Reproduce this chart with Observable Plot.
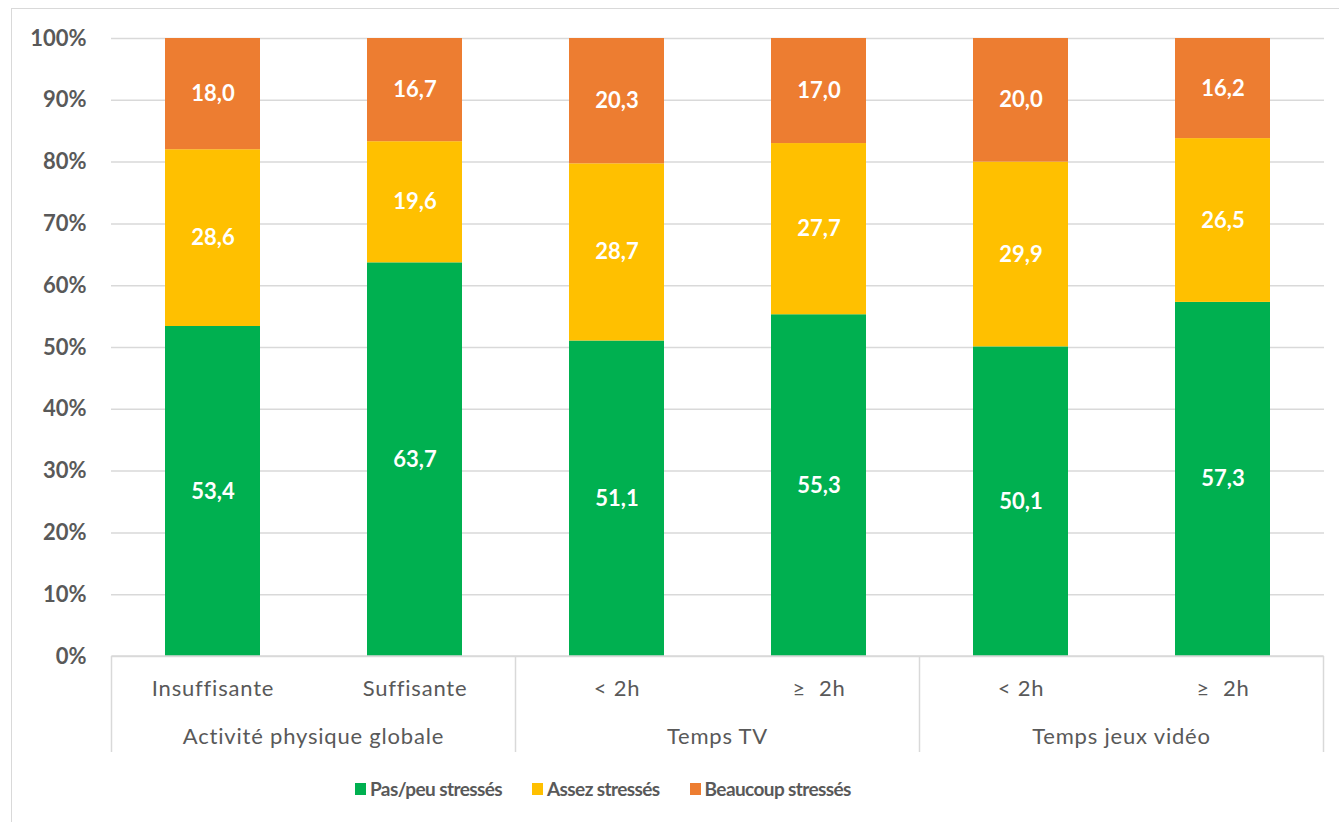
<!DOCTYPE html>
<html>
<head>
<meta charset="utf-8">
<script src="https://cdn.jsdelivr.net/npm/d3@7"></script>
<script src="https://cdn.jsdelivr.net/npm/@observablehq/plot@0.6"></script>
<style>
  html, body { margin: 0; padding: 0; background: #fff; overflow: hidden; }
  #wrap { position: relative; width: 1339px; height: 822px; font-family: Lato, "Open Sans", sans-serif; }
  #border { position: absolute; left: 11px; top: 8px; width: 1400px; height: 900px; border: 1.5px solid #d9d9d9; box-sizing: border-box; }
  #chart { position: absolute; left: 0; top: 0; }
  #chart g[aria-label="x-axis tick label"] text { letter-spacing: 0.8px; }
  #legend { position: absolute; left: 355px; top: 777px; display: flex; gap: 30px; font-weight: bold; font-size: 19px; letter-spacing: -0.6px; color: #595959; }
  .item { display: flex; align-items: center; gap: 4px; }
  .sw { width: 11px; height: 12px; display: inline-block; }
</style>
</head>
<body>
<div id="wrap">
  <div id="border"></div>
  <div id="chart"></div>
  <div id="legend"></div>
</div>
<script>
const groups = ["Activité physique globale", "Activité physique globale", "Temps TV", "Temps TV", "Temps jeux vidéo", "Temps jeux vidéo"];
const categories = ["Insuffisante", "Suffisante", "< 2h", "≥  2h", "< 2h", "≥  2h"];
const series = ["Pas/peu stressés", "Assez stressés", "Beaucoup stressés"];
const colors = ["#00B050", "#FFC000", "#ED7D31"];
const pasPeu = [53.4, 63.7, 51.1, 55.3, 50.1, 57.3];
const assez = [28.6, 19.6, 28.7, 27.7, 29.9, 26.5];
const beaucoup = [18.0, 16.7, 20.3, 17.0, 20.0, 16.2];
const yTicks = [0, 0.1, 0.2, 0.3, 0.4, 0.5, 0.6, 0.7, 0.8, 0.9, 1];

const keys = categories.map((c, i) => groups[i] + "|" + c + "|" + i);
const seriesValues = [pasPeu, assez, beaucoup];
const rows = [];
series.forEach((s, si) => {
  seriesValues[si].forEach((v, i) => rows.push({key: keys[i], series: s, value: v}));
});

const fmt = v => v.toFixed(1).replace(".", ",");
const grey = "#595959";
const gridColor = "#d9d9d9";

const chart = Plot.plot({
  width: 1339,
  height: 770,
  marginTop: 38,
  marginBottom: 114,
  marginLeft: 111,
  marginRight: 15,
  style: {fontFamily: "Lato, 'Open Sans', sans-serif", color: grey, background: "transparent"},
  x: {type: "band", domain: keys, paddingInner: 0.53, paddingOuter: 0.265, label: null},
  y: {domain: [0, 1], label: null},
  color: {domain: series, range: colors},
  marks: [
    Plot.gridY(yTicks, {stroke: gridColor, strokeOpacity: 1, strokeWidth: 1.5}),
    Plot.barY(rows, Plot.stackY({x: "key", y: "value", fill: "series", order: series, offset: "normalize", style: "filter: drop-shadow(1px 1px 1.5px rgba(0,0,0,0.25))"})),
    Plot.text(rows, Plot.stackY({x: "key", y: "value", z: "series", order: series, offset: "normalize", text: d => fmt(d.value), fill: "white", fontWeight: "bold", fontSize: 22})),
    Plot.axisY(yTicks, {tickSize: 0, tickPadding: 25, tickFormat: d => Math.round(d * 100) + "%", fontSize: 22, fontWeight: "bold", fill: grey, label: null}),
    Plot.axisX({tickSize: 0, tickPadding: 24, tickFormat: k => k.split("|")[1], fontSize: 22, fill: grey, label: null})
  ]
});
document.getElementById("chart").appendChild(chart);

// Group separators and group labels, placed via the chart's x scale
const xs = chart.scale("x");
const ys = chart.scale("y");
const bw = xs.bandwidth;
const step = xs.step;
const gap = (step - bw) / 2;
const y0 = ys.apply(0);
const svg = d3.select(chart);
const deco = svg.append("g");
const uniqueGroups = [...new Set(groups)];
const bounds = uniqueGroups.map(g => {
  const idx = groups.map((gg, i) => gg === g ? i : -1).filter(i => i >= 0);
  const left = xs.apply(keys[idx[0]]) - gap;
  const right = xs.apply(keys[idx[idx.length - 1]]) + bw + gap;
  return {g, left, right};
});
deco.append("line").attr("x1", bounds[0].left).attr("x2", bounds[bounds.length - 1].right)
  .attr("y1", y0).attr("y2", y0).attr("stroke", gridColor).attr("stroke-width", 1.5);
const edges = [bounds[0].left, ...bounds.map(b => b.right)];
edges.forEach(x => {
  deco.append("line").attr("x1", x).attr("x2", x).attr("y1", y0).attr("y2", y0 + 96)
    .attr("stroke", gridColor).attr("stroke-width", 1.5);
});
bounds.forEach(b => {
  deco.append("text").attr("x", (b.left + b.right) / 2).attr("y", y0 + 82)
    .attr("text-anchor", "middle").attr("dominant-baseline", "middle")
    .attr("font-size", 22).attr("letter-spacing", "0.8px").attr("fill", grey).text(b.g);
});

// Legend
const legend = document.getElementById("legend");
series.forEach((s, i) => {
  const it = document.createElement("div");
  it.className = "item";
  it.innerHTML = `<span class="sw" style="background:${colors[i]}"></span><span>${s}</span>`;
  legend.appendChild(it);
});
</script>
</body>
</html>
